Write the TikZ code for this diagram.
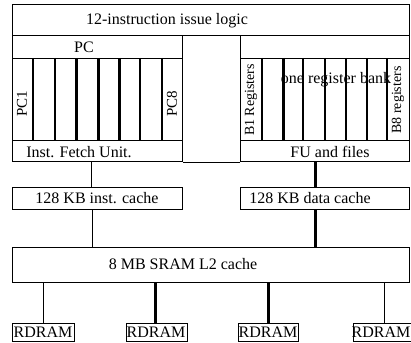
\documentclass[tikz,border=0pt]{standalone}
\usepackage{fontspec}
\setmainfont{Liberation Serif}
\begin{document}
\begin{tikzpicture}[x=1pt,y=-1pt,
  box/.style={draw=black,line width=1.4pt,rectangle,inner sep=0pt,anchor=north west},
  lbl/.style={font=\fontsize{16}{16}\selectfont,inner sep=0pt},
  rlbl/.style={font=\fontsize{14}{14}\selectfont,inner sep=0pt,rotate=90},
  thinline/.style={line width=1.3pt},
  thickline/.style={line width=3pt}]
\useasboundingbox (0,0) rectangle (411,342);
\fill[white] (0,0) rectangle (411,342);
% top issue logic
\node[box,minimum width=397pt,minimum height=31pt] (issue) at (12,4) {};
\node[lbl] (issuetxt) at (167,21) {12-instruction issue logic};
% left block
\node[box,minimum width=170pt,minimum height=23pt] (pcrow) at (12,35) {};
\node[lbl] (pctxt) at (84,47) {PC};
\node[box,minimum width=170pt,minimum height=82pt] (pcs) at (12,58) {};
\node[box,minimum width=170pt,minimum height=21pt] (fetch) at (12,140) {};
\node[lbl] (fetchtxt) at (79,152) {Inst. Fetch Unit.};
\node[rlbl,font=\fontsize{15}{15}\selectfont] (pc1) at (22,104) {PC1};
\node[rlbl,font=\fontsize{15}{15}\selectfont] (pc8) at (172,104) {PC8};
\foreach \x in {33,55,140,162} \draw[thinline] (\x,58) -- (\x,140);
\foreach \x in {76,98,119} \draw[thickline] (\x,58) -- (\x,140);
% right block
\node[box,minimum width=169pt,minimum height=23pt] (rrow) at (240,35) {};
\node[box,minimum width=169pt,minimum height=82pt] (regs) at (240,58) {};
\node[box,minimum width=169pt,minimum height=21pt] (fu) at (240,140) {};
\node[lbl] (futxt) at (330,152) {FU and files};
\node[lbl] (banktxt) at (336,80) {one register bank};
\node[rlbl] (b1) at (251,100) {B1 Registers};
\node[rlbl] (b8) at (398,100) {B8 registers};
\foreach \x in {262,303,325,346,367,387} \draw[thinline] (\x,58) -- (\x,140);
\draw[thickline] (283,58) -- (283,140);
\draw[line width=1.4pt] (fetch.south east) -- (fu.south west);
% caches
\node[box,minimum width=170pt,minimum height=22pt] (icache) at (12,187) {};
\node[lbl] (icachetxt) at (97,198) {128 KB inst. cache};
\node[box,minimum width=169pt,minimum height=22pt] (dcache) at (240,187) {};
\node[lbl] (dcachetxt) at (310,198) {128 KB data cache};
\node[box,minimum width=397pt,minimum height=35pt] (l2) at (12,247) {};
\node[lbl] (l2txt) at (183,264) {8 MB SRAM L2 cache};
% rdram
\node[box,minimum width=62pt,minimum height=18pt] (r1) at (12,323) {};
\node[box,minimum width=61pt,minimum height=18pt] (r2) at (126,323) {};
\node[box,minimum width=60pt,minimum height=18pt] (r3) at (238,323) {};
\node[box,minimum width=62pt,minimum height=18pt] (r4) at (353,323) {};
\node[lbl] (r1t) at (43,332) {RDRAM};
\node[lbl] (r2t) at (156,332) {RDRAM};
\node[lbl] (r3t) at (268,332) {RDRAM};
\node[lbl] (r4t) at (381,332) {RDRAM};
% connectors
\draw[thinline] ([xshift=-6pt]fetch.south) -- ([xshift=-6pt]fetch.south |- icache.north);
\draw[thickline] ([xshift=-10pt]fu.south) -- ([xshift=-10pt]fu.south |- dcache.north);
\draw[thinline] ([xshift=-5pt]icache.south) -- ([xshift=-5pt]icache.south |- l2.north);
\draw[thickline] ([xshift=-10pt]dcache.south) -- ([xshift=-10pt]dcache.south |- l2.north);
\draw[thinline] (r1.north) -- (r1.north |- l2.south);
\draw[thickline] ([xshift=-2pt]r2.north) -- ([xshift=-2pt]r2.north |- l2.south);
\draw[thickline] (r3.north) -- (r3.north |- l2.south);
\draw[thinline] (r4.north) -- (r4.north |- l2.south);
\end{tikzpicture}
\end{document}
